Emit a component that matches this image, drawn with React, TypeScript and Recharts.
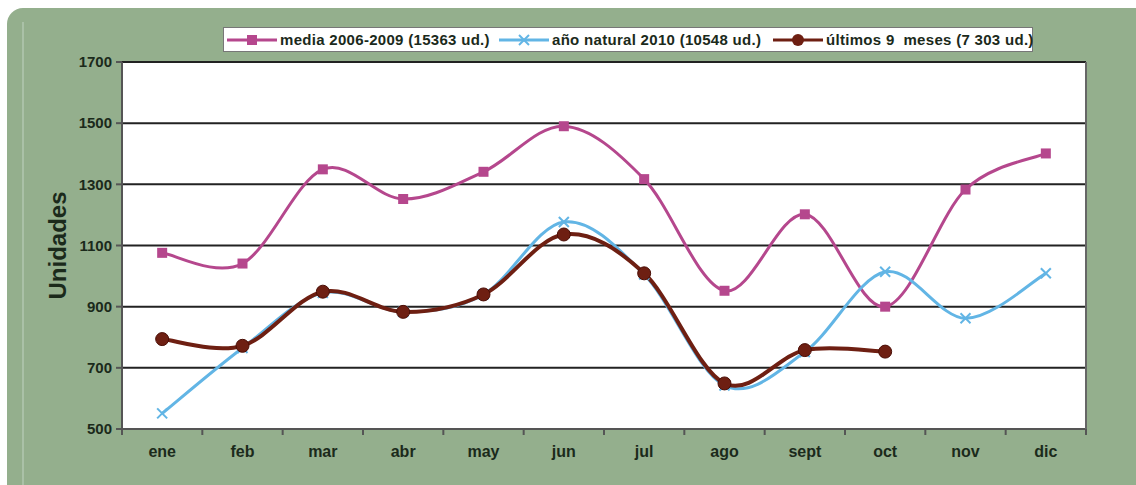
import { LineChart, Line, XAxis, YAxis, CartesianGrid } from 'recharts';

const months = ['ene', 'feb', 'mar', 'abr', 'may', 'jun', 'jul', 'ago', 'sept', 'oct', 'nov', 'dic'];
const media = [1076, 1041, 1349, 1252, 1341, 1490, 1317, 952, 1202, 900, 1283, 1401];
const natural2010 = [551, 765, 945, 883, 940, 1177, 1005, 642, 752, 1014, 862, 1009];
const ultimos9 = [794, 772, 949, 883, 940, 1136, 1009, 649, 758, 753, null, null];
const yTicks = [500, 700, 900, 1100, 1300, 1500, 1700];

const seriesNames = [
  'media 2006-2009 (15363 ud.)',
  'año natural 2010 (10548 ud.)',
  'últimos 9  meses (7 303 ud.)',
];

const PINK = '#B5478D';
const BLUE = '#62B5E5';
const BROWN = '#6E1F12';
const GREEN = '#94AF8D';
const TEXT = '#1B2A1B';
const FONT = '"Liberation Sans", Arial, sans-serif';

const W = 1136;
const H = 485;
const LEFT = 122;
const RIGHT = 50;
const PLOT_W = W - LEFT - RIGHT;
const BAND = PLOT_W / months.length;

const data = months.map((m, i) => ({
  month: m,
  media: media[i],
  natural: natural2010[i],
  ultimos: ultimos9[i],
}));

// Excel style smoothing (Catmull-Rom as cubic bezier)
const excelSmooth = (context: any) => {
  let pts: number[][] = [];
  return {
    areaStart() {},
    areaEnd() {},
    lineStart() {
      pts = [];
    },
    point(x: number, y: number) {
      pts.push([+x, +y]);
    },
    lineEnd() {
      if (!pts.length) return;
      context.moveTo(pts[0][0], pts[0][1]);
      for (let i = 0; i < pts.length - 1; i++) {
        const p0 = pts[i - 1] || pts[i];
        const p1 = pts[i];
        const p2 = pts[i + 1];
        const p3 = pts[i + 2] || p2;
        context.bezierCurveTo(
          p1[0] + (p2[0] - p0[0]) / 6,
          p1[1] + (p2[1] - p0[1]) / 6,
          p2[0] - (p3[0] - p1[0]) / 6,
          p2[1] - (p3[1] - p1[1]) / 6,
          p2[0],
          p2[1]
        );
      }
    },
  };
};

const SquareDot = (props: any) => {
  const { cx, cy, value } = props;
  if (value == null || cx == null) return <g />;
  return <rect x={cx - 5} y={cy - 5} width={10} height={10} fill={PINK} />;
};

const CrossDot = (props: any) => {
  const { cx, cy, value } = props;
  if (value == null || cx == null) return <g />;
  return (
    <g stroke={BLUE} strokeWidth={2}>
      <line x1={cx - 5} y1={cy - 5} x2={cx + 5} y2={cy + 5} />
      <line x1={cx - 5} y1={cy + 5} x2={cx + 5} y2={cy - 5} />
    </g>
  );
};

const CircleDot = (props: any) => {
  const { cx, cy, value } = props;
  if (value == null || cx == null) return <g />;
  return <circle cx={cx} cy={cy} r={6.5} fill={BROWN} stroke="#4A0E06" strokeWidth={1} />;
};

const MonthTick = (props: any) => {
  const { x, y, payload, index } = props;
  return (
    <g>
      <line x1={x - BAND / 2} y1={y} x2={x - BAND / 2} y2={y + 6} stroke="#555" strokeWidth={2} />
      {index === months.length - 1 && (
        <line x1={x + BAND / 2} y1={y} x2={x + BAND / 2} y2={y + 6} stroke="#555" strokeWidth={2} />
      )}
      <text x={x} y={y + 28} textAnchor="middle" fill={TEXT} fontSize={16} fontWeight="bold" fontFamily={FONT}>
        {payload.value}
      </text>
    </g>
  );
};

const YLabel = (props: any) => {
  const { viewBox } = props;
  const cy = viewBox.y + viewBox.height / 2;
  const cx = viewBox.x + 57;
  return (
    <text
      x={cx}
      y={cy}
      transform={`rotate(-90 ${cx} ${cy})`}
      textAnchor="middle"
      dominantBaseline="central"
      fill={TEXT}
      fontSize={24}
      fontWeight="bold"
      fontFamily={FONT}
    >
      Unidades
    </text>
  );
};

function LegendItem({ label, color, marker, left }: { label: string; color: string; marker: string; left: number }) {
  return (
    <div style={{ position: 'absolute', left, top: 3, display: 'flex', alignItems: 'center' }}>
      <svg width={52} height={16}>
        <line x1={1} y1={8} x2={51} y2={8} stroke={color} strokeWidth={3} />
        {marker === 'square' && <rect x={21} y={3} width={10} height={10} fill={color} />}
        {marker === 'cross' && (
          <g stroke={color} strokeWidth={2}>
            <line x1={21} y1={3} x2={31} y2={13} />
            <line x1={21} y1={13} x2={31} y2={3} />
          </g>
        )}
        {marker === 'circle' && <circle cx={26} cy={8} r={6} fill={color} />}
      </svg>
      <span style={{ marginLeft: 2, whiteSpace: 'pre' }}>{label}</span>
    </div>
  );
}

export default function App() {
  return (
    <div style={{ position: 'absolute', left: 0, top: 0, width: W, height: H, overflow: 'hidden', background: '#fff' }}>
      <div
        style={{
          position: 'absolute',
          left: 7,
          top: 8,
          width: W + 20,
          height: H + 20,
          background: GREEN,
          borderTopLeftRadius: 16,
        }}
      />
      <div style={{ position: 'absolute', left: 22, top: 22, width: 2, height: H, background: '#AAC1A7' }} />
      <div style={{ position: 'absolute', left: 0, top: 0 }}>
        <LineChart width={W} height={H} data={data} margin={{ top: 62, right: 0, bottom: 0, left: 0 }}>
          <CartesianGrid
            yAxisId="l"
            vertical={false}
            fill="#fff"
            fillOpacity={1}
            stroke="#222"
            strokeWidth={2}
          />
          <XAxis
            dataKey="month"
            height={56}
            padding={{ left: BAND / 2, right: BAND / 2 }}
            tickLine={false}
            tickSize={0}
            tickMargin={0}
            axisLine={{ stroke: '#555', strokeWidth: 2 }}
            tick={<MonthTick />}
            interval={0}
          />
          <YAxis
            yAxisId="l"
            width={LEFT}
            domain={[500, 1700]}
            ticks={yTicks}
            allowDataOverflow
            axisLine={{ stroke: '#555', strokeWidth: 2 }}
            tickLine={{ stroke: '#555', strokeWidth: 2 }}
            tickSize={6}
            tickMargin={4}
            tick={{ fill: TEXT, fontSize: 15, fontWeight: 'bold', fontFamily: FONT }}
            label={<YLabel />}
          />
          <YAxis
            yAxisId="r"
            orientation="right"
            width={RIGHT}
            domain={[500, 1700]}
            tick={false}
            tickLine={false}
            axisLine={{ stroke: '#666', strokeWidth: 2 }}
          />
          <Line
            yAxisId="l"
            dataKey="media"
            type={excelSmooth as any}
            stroke={PINK}
            strokeWidth={3}
            dot={<SquareDot />}
            isAnimationActive={false}
          />
          <Line
            yAxisId="l"
            dataKey="natural"
            type={excelSmooth as any}
            stroke={BLUE}
            strokeWidth={3}
            dot={<CrossDot />}
            isAnimationActive={false}
          />
          <Line
            yAxisId="l"
            dataKey="ultimos"
            type={excelSmooth as any}
            stroke={BROWN}
            strokeWidth={4}
            dot={<CircleDot />}
            isAnimationActive={false}
          />
        </LineChart>
      </div>
      <div
        style={{
          position: 'absolute',
          left: 223,
          top: 27,
          width: 810,
          height: 25,
          boxSizing: 'border-box',
          background: '#fff',
          border: '1px solid #777',
          fontFamily: FONT,
          fontWeight: 'bold',
          fontSize: 15,
          letterSpacing: 0.3,
          color: TEXT,
        }}
      >
        <LegendItem label={seriesNames[0]} color={PINK} marker="square" left={2} />
        <LegendItem label={seriesNames[1]} color={BLUE} marker="cross" left={274} />
        <LegendItem label={seriesNames[2]} color={BROWN} marker="circle" left={548} />
      </div>
    </div>
  );
}
